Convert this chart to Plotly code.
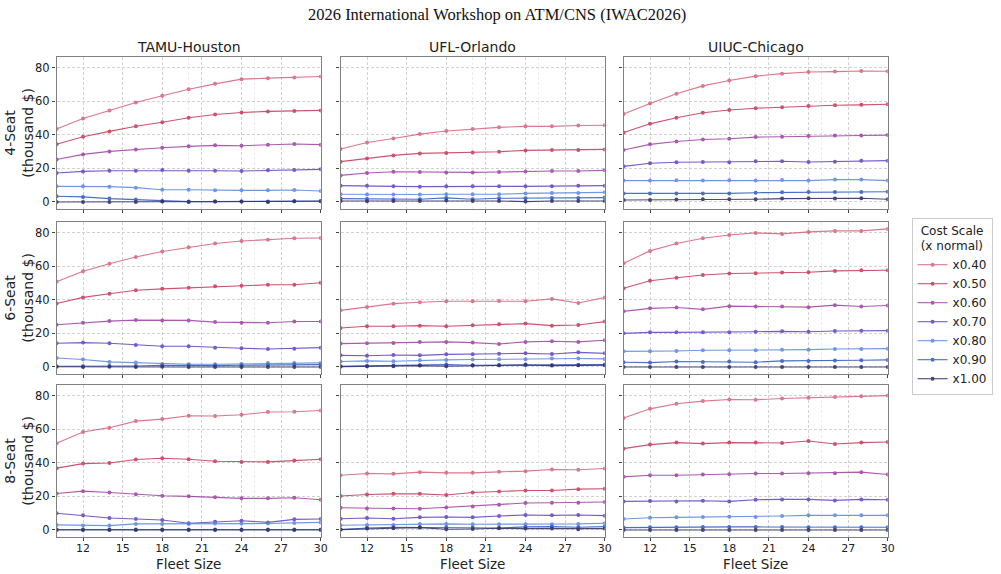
import plotly.graph_objects as go

fleet = [10, 12, 14, 16, 18, 20, 22, 24, 26, 28, 30]
scales = ["x0.40", "x0.50", "x0.60", "x0.70", "x0.80", "x0.90", "x1.00"]
hubs = ["TAMU-Houston", "UFL-Orlando", "UIUC-Chicago"]
seats = ["4-Seat", "6-Seat", "8-Seat"]
x_ticks = [12, 15, 18, 21, 24, 27, 30]
y_ticks = [0, 20, 40, 60, 80]

tamu_4 = [
    [43.4, 49.7, 54.5, 59.2, 63.2, 67.1, 70.3, 73.1, 73.7, 74.1, 74.7],
    [34.3, 38.8, 42.0, 45.1, 47.5, 50.1, 52.1, 53.3, 53.9, 54.1, 54.5],
    [25.3, 28.3, 30.1, 31.3, 32.3, 33.1, 33.7, 33.5, 34.1, 34.5, 34.1],
    [17.2, 18.2, 18.6, 18.6, 19.0, 18.6, 18.6, 18.4, 18.8, 19.0, 19.4],
    [9.3, 9.3, 9.1, 8.5, 7.3, 7.3, 6.9, 6.9, 6.9, 7.1, 6.5],
    [3.4, 3.0, 2.0, 1.4, 0.6, 0.2, 0.2, 0.2, 0.2, 0.4, 0.6],
    [0.0, 0.0, 0.0, 0.0, 0.2, 0.0, 0.2, 0.2, 0.0, 0.4, 0.4],
]
ufl_4 = [
    [31.5, 35.4, 37.8, 40.4, 42.2, 43.4, 44.4, 45.0, 45.0, 45.5, 45.7],
    [24.0, 25.9, 27.7, 28.9, 29.1, 29.5, 29.9, 30.7, 30.9, 30.9, 31.3],
    [15.8, 17.2, 18.0, 17.8, 17.6, 17.6, 17.8, 18.2, 18.4, 18.4, 18.8],
    [9.7, 9.7, 9.3, 9.1, 9.3, 9.3, 9.3, 9.3, 9.3, 9.7, 9.7],
    [4.6, 4.4, 4.4, 4.4, 4.6, 4.6, 4.6, 5.1, 5.3, 5.3, 5.7],
    [2.0, 1.8, 1.6, 1.6, 2.4, 1.6, 2.2, 2.2, 2.4, 2.4, 2.6],
    [0.6, 0.4, 0.6, 0.6, 0.8, 0.6, 0.6, 0.2, 0.6, 0.6, 0.6],
]
uiuc_4 = [
    [52.3, 58.6, 64.4, 69.1, 72.3, 74.9, 76.4, 77.4, 77.6, 78.0, 77.8],
    [41.4, 46.5, 50.1, 53.1, 54.7, 55.8, 56.4, 57.2, 57.6, 57.8, 58.2],
    [30.9, 34.3, 36.0, 37.2, 37.6, 38.6, 38.8, 39.2, 39.6, 39.6, 39.8],
    [21.2, 23.0, 23.6, 23.8, 23.6, 24.2, 24.2, 23.8, 24.0, 24.6, 24.6],
    [12.7, 12.7, 12.9, 12.7, 12.9, 12.7, 13.1, 12.7, 13.3, 13.3, 12.7],
    [5.1, 5.0, 5.0, 5.1, 5.1, 5.5, 5.7, 5.9, 5.9, 5.9, 6.1],
    [1.2, 1.2, 1.4, 1.6, 1.6, 1.6, 2.0, 2.2, 2.0, 2.2, 1.6],
]
tamu_6 = [
    [50.7, 57.0, 61.4, 65.5, 68.7, 71.3, 73.5, 75.0, 75.8, 76.6, 76.8],
    [37.8, 41.4, 43.6, 45.7, 46.5, 47.1, 48.1, 48.3, 48.9, 48.9, 50.1],
    [25.1, 26.3, 27.3, 27.9, 27.7, 27.7, 26.7, 26.3, 26.3, 27.1, 27.1],
    [14.1, 14.5, 14.1, 13.1, 12.3, 12.3, 11.5, 11.1, 10.7, 10.9, 11.5],
    [5.3, 4.4, 3.0, 2.6, 1.8, 1.6, 1.6, 1.8, 2.4, 2.4, 2.4],
    [0.4, 0.4, 0.6, 0.6, 1.0, 0.8, 0.8, 1.0, 1.2, 1.4, 1.4],
    [0.1, 0.0, 0.1, 0.0, 0.1, 0.0, 0.0, 0.0, 0.0, 0.0, 0.0],
]
ufl_6 = [
    [33.7, 35.7, 37.7, 38.5, 39.1, 39.1, 39.3, 39.1, 40.5, 38.1, 41.3],
    [23.2, 24.2, 24.2, 24.6, 24.2, 24.8, 25.4, 25.8, 24.6, 25.0, 27.0],
    [13.9, 14.1, 14.3, 14.9, 14.9, 14.5, 13.7, 14.9, 15.3, 14.9, 15.9],
    [6.9, 6.7, 7.1, 6.9, 7.5, 7.5, 7.9, 8.1, 7.7, 8.7, 8.1],
    [3.2, 3.6, 3.4, 4.0, 4.2, 4.4, 4.6, 4.6, 5.0, 5.0, 4.8],
    [0.4, 0.6, 0.8, 1.0, 1.4, 1.0, 1.0, 1.4, 1.0, 1.2, 1.4],
    [0.2, 0.4, 0.4, 0.8, 0.4, 0.8, 1.0, 1.2, 0.8, 1.0, 1.0],
]
uiuc_6 = [
    [61.8, 69.1, 73.5, 76.6, 78.6, 79.8, 79.2, 80.4, 81.0, 81.0, 82.2],
    [46.9, 51.3, 53.1, 54.7, 55.6, 55.8, 56.2, 56.4, 57.2, 57.6, 57.6],
    [33.1, 34.9, 35.4, 34.3, 36.2, 36.0, 36.0, 35.6, 36.8, 36.0, 36.6],
    [20.0, 20.6, 20.6, 20.6, 20.6, 21.0, 21.2, 21.0, 21.4, 21.6, 21.6],
    [9.3, 9.3, 9.5, 9.9, 9.9, 9.9, 10.3, 10.3, 10.7, 10.7, 10.9],
    [2.8, 2.6, 3.2, 3.0, 3.2, 2.8, 3.6, 3.6, 3.8, 4.0, 4.2],
    [0.0, 0.0, 0.0, 0.0, 0.0, 0.0, 0.0, 0.0, 0.0, 0.0, 0.0],
]
tamu_8 = [
    [51.6, 58.3, 60.9, 64.8, 66.0, 68.0, 67.8, 68.6, 70.2, 70.4, 71.1],
    [36.8, 39.5, 39.9, 41.9, 42.7, 42.1, 40.9, 40.5, 40.5, 41.3, 42.1],
    [21.7, 23.1, 22.3, 21.3, 20.4, 20.0, 19.4, 18.8, 18.8, 19.2, 18.0],
    [9.9, 8.7, 7.1, 6.5, 5.9, 4.0, 4.9, 5.5, 4.5, 6.3, 6.5],
    [3.0, 2.6, 2.6, 3.6, 3.6, 3.6, 3.8, 3.8, 3.8, 4.2, 4.5],
    [0.3, 0.3, 0.3, 0.3, 0.3, 0.3, 0.3, 0.3, 0.3, 0.3, 0.3],
    [0.0, 0.0, 0.0, 0.0, 0.0, 0.0, 0.0, 0.0, 0.0, 0.0, 0.0],
]
ufl_8 = [
    [32.6, 33.6, 33.4, 34.4, 34.0, 34.0, 34.6, 35.0, 36.0, 35.8, 36.6],
    [20.2, 21.1, 21.5, 21.5, 20.8, 22.3, 22.9, 23.5, 23.5, 24.3, 24.5],
    [13.2, 12.8, 12.8, 12.6, 13.4, 14.0, 15.0, 16.0, 16.2, 16.2, 16.6],
    [6.7, 7.1, 6.7, 7.5, 7.7, 7.5, 8.3, 8.9, 8.7, 8.9, 8.5],
    [2.8, 3.0, 3.0, 3.6, 3.6, 3.4, 3.4, 3.4, 3.4, 3.6, 4.0],
    [0.2, 1.2, 1.6, 1.6, 1.6, 1.4, 1.2, 1.8, 2.0, 1.6, 2.0],
    [0.2, 0.8, 1.0, 1.4, 0.4, 0.6, 1.0, 0.8, 0.8, 0.4, 0.8],
]
uiuc_8 = [
    [66.6, 72.1, 75.1, 76.7, 77.7, 77.5, 78.3, 78.7, 79.2, 79.6, 80.0],
    [48.4, 50.8, 52.0, 51.4, 52.0, 52.0, 51.8, 53.0, 51.2, 52.0, 52.4],
    [31.6, 32.6, 32.6, 33.0, 33.2, 33.6, 33.6, 33.8, 33.8, 34.4, 33.0],
    [17.0, 17.2, 17.0, 17.4, 17.0, 18.0, 18.2, 18.2, 17.6, 18.2, 18.0],
    [6.5, 7.3, 7.5, 7.7, 7.9, 7.7, 8.3, 8.7, 8.7, 8.7, 8.7],
    [1.4, 1.6, 1.6, 1.8, 1.8, 1.8, 1.8, 1.6, 1.6, 1.6, 1.6],
    [0.0, 0.0, 0.0, 0.0, 0.0, 0.0, 0.0, 0.0, 0.0, 0.0, 0.0],
]

panels = [
    [tamu_4, ufl_4, uiuc_4],
    [tamu_6, ufl_6, uiuc_6],
    [tamu_8, ufl_8, uiuc_8],
]

colors = ["#d45570", "#c8405f", "#9c3fa3", "#5e3fc0", "#5784e0", "#3560c4", "#34346c"]
opac = [0.8, 0.9, 0.85, 0.85, 0.85, 0.9, 0.9]

W, H = 1001, 574
col_px = [(57, 323), (343, 609), (628, 894)]
row_px = [(57, 209), (222, 374), (385, 537)]
FONT = "DejaVu Sans"

fig = go.Figure()
layout = {}
annotations = []

for r in range(3):
    for c in range(3):
        idx = r * 3 + c + 1
        xa = "x" if idx == 1 else f"x{idx}"
        ya = "y" if idx == 1 else f"y{idx}"
        xkey = "xaxis" if idx == 1 else f"xaxis{idx}"
        ykey = "yaxis" if idx == 1 else f"yaxis{idx}"
        data = panels[r][c]
        for s, name in enumerate(scales):
            fig.add_trace(go.Scatter(
                x=fleet, y=data[s], mode="lines+markers", name=name,
                xaxis=xa, yaxis=ya,
                line=dict(color=colors[s], width=1.1),
                marker=dict(color=colors[s], size=4, symbol="circle"),
                opacity=opac[s],
                showlegend=(idx == 1), legendgroup=name,
            ))
        x0, x1 = col_px[c]
        y0, y1 = row_px[r]
        layout[xkey] = dict(
            domain=[x0 / W, x1 / W], anchor=ya, range=[10, 30],
            tickmode="array", tickvals=x_ticks,
            showticklabels=(r == 2), ticklabelstandoff=-2,
            ticks="outside", ticklen=3, tickcolor="#444",
            tickfont=dict(size=11, color="#222", family=FONT),
            showline=True, linecolor="#808080", linewidth=1.3, mirror=True,
            showgrid=True, gridcolor="#d2d2d2", griddash="3px,2px", gridwidth=1,
            minor=dict(tickvals=[20, 25], showgrid=True, gridcolor="#ededed",
                       griddash="3px,2px", gridwidth=1, ticks=""),
            zeroline=False,
        )
        layout[ykey] = dict(
            domain=[1 - y1 / H, 1 - y0 / H], anchor=xa, range=[-4.2, 86.3],
            tickmode="array", tickvals=y_ticks,
            showticklabels=(c == 0),
            ticks="outside", ticklen=3.5, tickcolor="#444",
            tickfont=dict(size=11.5, color="#222", family=FONT),
            showline=True, linecolor="#808080", linewidth=1.3, mirror=True,
            showgrid=True, gridcolor="#d2d2d2", griddash="3px,2px", gridwidth=1,
            zeroline=False,
        )
        if r == 0:
            annotations.append(dict(
                text=hubs[c], x=(x0 + x1) / 2 / W, y=1 - 47 / H,
                xref="paper", yref="paper", showarrow=False,
                xanchor="center", yanchor="middle",
                font=dict(size=14, color="#222", family=FONT)))
        if r == 2:
            annotations.append(dict(
                text="Fleet Size", x=(x0 + x1) / 2 / W, y=0,
                xref="paper", yref="paper", showarrow=False,
                xanchor="center", yanchor="bottom", yshift=0,
                font=dict(size=13.5, color="#222", family=FONT)))
        if c == 0:
            annotations.append(dict(
                text=f"{seats[r]}<br>(thousand $)", x=19 / W, y=1 - (y0 + y1) / 2 / H,
                xref="paper", yref="paper", showarrow=False, textangle=-90,
                xanchor="center", yanchor="middle",
                font=dict(size=14, color="#222", family=FONT)))

annotations.append(dict(
    text="2026 International Workshop on ATM/CNS (IWAC2026)",
    x=0.5, y=1 - 14 / H, xref="paper", yref="paper", showarrow=False,
    xanchor="center", yanchor="middle",
    font=dict(size=16.5, color="#111", family="Liberation Serif")))

fig.update_layout(
    width=W, height=H,
    margin=dict(l=0, r=0, t=0, b=0),
    paper_bgcolor="white", plot_bgcolor="white",
    annotations=annotations,
    legend=dict(
        title=dict(text="Cost Scale<br>(x normal)", side="top center",
                   font=dict(size=12, color="#222", family=FONT)),
        font=dict(size=12, color="#222", family=FONT),
        x=918 / W, xanchor="left", y=1 - 218 / H, yanchor="top",
        bordercolor="#cccccc", borderwidth=1, bgcolor="white",
        tracegroupgap=0, itemwidth=30,
    ),
    **layout,
)

fig.write_html("out.html")
